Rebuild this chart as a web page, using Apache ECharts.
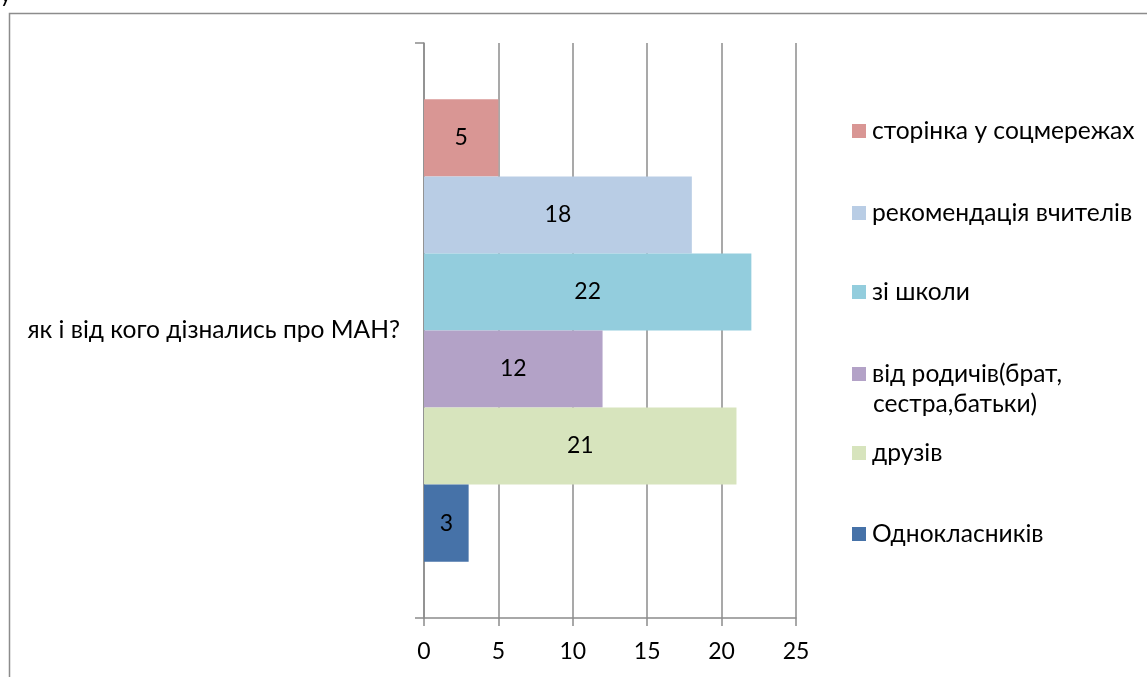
<!DOCTYPE html>
<html>
<head>
<meta charset="utf-8">
<script src="https://cdn.jsdelivr.net/npm/echarts@6/dist/echarts.min.js"></script>
<style>
html,body{margin:0;padding:0;background:#fff;}
#chart{width:1147px;height:677px;}
</style>
</head>
<body>
<div id="chart"></div>
<script>
const categories = ['як і від кого дізнались про МАН?'];
// top to bottom as drawn
const seriesNames = ['сторінка у соцмережах', 'рекомендація вчителів', 'зі школи', 'від родичів(брат, сестра,батьки)', 'друзів', 'Однокласників'];
const seriesValues = [5, 18, 22, 12, 21, 3];
const seriesColors = ['#D99694', '#B9CDE5', '#93CDDD', '#B3A2C7', '#D7E4BD', '#4672A8'];
const xTicks = [0, 5, 10, 15, 20, 25];

const FONT = 'Lato, "Open Sans", sans-serif';
const FS = 23;
const FT = 24.6;
const chart = echarts.init(document.getElementById('chart'), null, {renderer: 'canvas'});

const legendCenters = [131, 213, 292, 374, 453, 534];
const legends = seriesNames.map((n, i) => ({
  data: [n],
  orient: 'vertical',
  left: 852,
  top: legendCenters[i] - 14,
  padding: 0,
  itemWidth: 14,
  itemHeight: 14,
  itemGap: 6,
  icon: 'rect',
  formatter: name => name.indexOf('брат,') >= 0 ? name.split(' сестра')[0] : name,
  textStyle: {fontFamily: FONT, fontSize: FT, color: '#000', lineHeight: 28, padding: [0, 0, 0, 1]},
  selectedMode: false
}));

const option = {
  animation: false,
  backgroundColor: '#fff',
  graphic: [
    {type: 'rect', shape: {x: 9.5, y: 13.5, width: 1300, height: 800}, style: {fill: 'none', stroke: '#8c8c8c', lineWidth: 1.5}, z: -10},
    {type: 'text', left: 0, top: -16, style: {text: 'у', font: '22px ' + FONT, fill: '#000'}},
    {type: 'text', left: 873, top: 392, style: {text: 'сестра,батьки)', font: FT + 'px ' + FONT, fill: '#000'}}
  ],
  legend: legends,
  grid: {left: 424, right: 351, top: 43, bottom: 59, containLabel: false},
  xAxis: {
    type: 'value', min: 0, max: 25, interval: 5,
    axisLine: {show: true, lineStyle: {color: '#8c8c8c', width: 1.5}},
    axisTick: {show: true, length: 8, lineStyle: {color: '#8c8c8c', width: 1.5}},
    splitLine: {show: true, lineStyle: {color: '#8c8c8c', width: 1.5}},
    axisLabel: {fontFamily: FONT, fontSize: FS, color: '#000', margin: 22, formatter: v => xTicks.includes(v) ? String(v) : ''}
  },
  yAxis: {
    type: 'category', data: categories,
    axisLine: {show: true, lineStyle: {color: '#8c8c8c', width: 1.5}},
    axisTick: {show: true, length: 9, lineStyle: {color: '#8c8c8c', width: 1.5}},
    axisLabel: {fontFamily: FONT, fontSize: FT, color: '#000', margin: 24}
  },
  series: seriesNames.map((n, i) => ({
    name: n, type: 'bar', data: [seriesValues[i]],
    barGap: '0%', barCategoryGap: '19.6%',
    itemStyle: {color: seriesColors[i]},
    label: {show: true, position: 'inside', fontFamily: FONT, fontSize: FS, color: '#000'}
  }))
};
chart.setOption(option);
</script>
</body>
</html>
